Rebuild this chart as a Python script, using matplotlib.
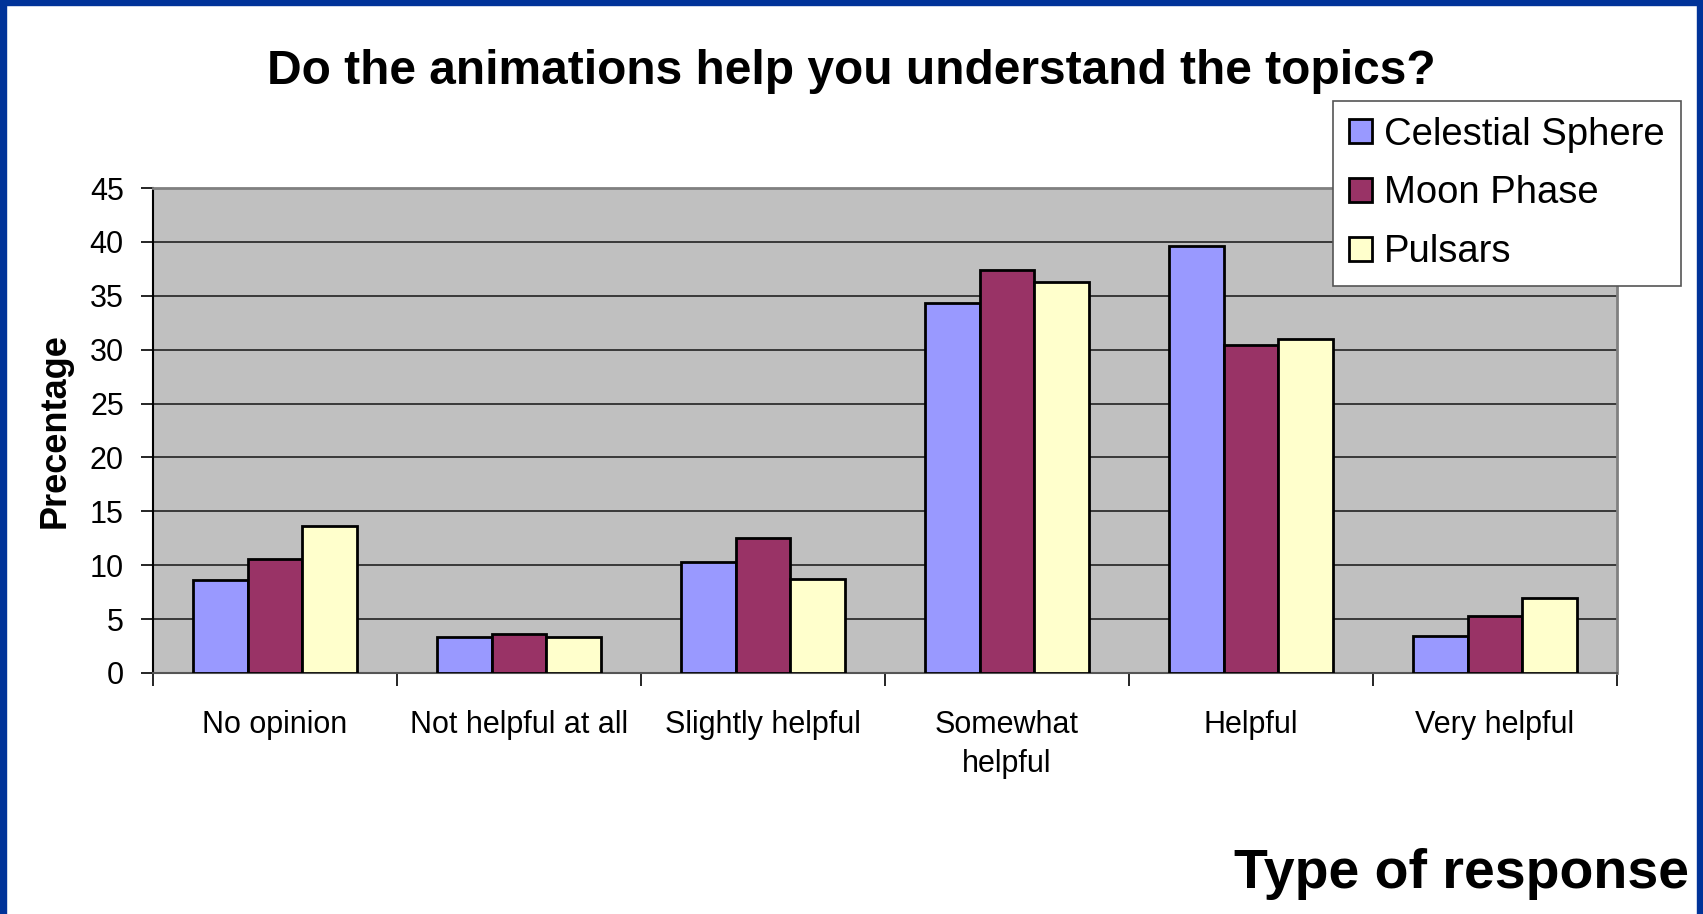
import numpy as np
import matplotlib
matplotlib.use("Agg")
import matplotlib.pyplot as plt
from matplotlib.patches import Rectangle

plt.rcParams['font.family'] = ['Liberation Sans', 'DejaVu Sans']

categories = ["No opinion", "Not helpful at all", "Slightly helpful",
              "Somewhat\nhelpful", "Helpful", "Very helpful"]
celestial = [8.6, 3.3, 10.3, 34.3, 39.6, 3.4]
moon = [10.6, 3.6, 12.5, 37.4, 30.4, 5.3]
pulsars = [13.6, 3.3, 8.7, 36.3, 31.0, 7.0]
series_names = ["Celestial Sphere", "Moon Phase", "Pulsars"]
colors = ["#9999FF", "#993366", "#FFFFCC"]

fig = plt.figure(figsize=(17.03, 9.14), dpi=100)
ax = fig.add_axes([0.0898, 0.2637, 0.8597, 0.5306])
ax.set_facecolor("#C0C0C0")

x = np.arange(len(categories))
w = 0.224
for i, (vals, name, c) in enumerate(zip([celestial, moon, pulsars], series_names, colors)):
    ax.bar(x + (i - 1) * w, vals, w, color=c, edgecolor="black",
           linewidth=2.0, label=name, zorder=3)

ax.set_xlim(-0.5, len(categories) - 0.5)
ax.set_ylim(0, 45)
ax.set_yticks(np.arange(0, 46, 5))
ax.yaxis.grid(True, color="#222222", linewidth=1.2, zorder=1)
ax.set_axisbelow(True)

# category labels in the middle, ticks at the boundaries
ax.set_xticks(x)
ax.set_xticklabels(categories, fontsize=22, linespacing=1.35)
ax.set_xticks(np.arange(-0.5, len(categories), 1.0), minor=True)
ax.tick_params(axis="x", which="major", length=0, pad=27)
ax.tick_params(axis="x", which="minor", length=9, width=1.2, color="black")
ax.tick_params(axis="y", labelsize=22, length=9, width=1.2, pad=12)

ax.spines["left"].set_color("black")
ax.spines["left"].set_linewidth(1.5)
ax.spines["bottom"].set_color("#555555")
ax.spines["bottom"].set_linewidth(1.5)
for s in ["top", "right"]:
    ax.spines[s].set_color("#808080")
    ax.spines[s].set_linewidth(2)

ax.set_ylabel("Precentage", fontsize=26, fontweight="bold", labelpad=12)
fig.text(0.5, 0.922, "Do the animations help you understand the topics?",
         fontsize=34.5, fontweight="bold", ha="center", va="center")
fig.text(0.992, 0.044, "Type of response", fontsize=40, fontweight="bold",
         ha="right", va="center")

leg = fig.legend(loc="upper left", bbox_to_anchor=(0.783, 0.89), fontsize=27.5,
                 frameon=True, fancybox=False, edgecolor="#555555",
                 facecolor="white", framealpha=1,
                 handlelength=0.6, handleheight=0.6, handletextpad=0.3,
                 labelspacing=0.6, borderpad=0.42, borderaxespad=0)
leg.get_frame().set_linewidth(1.2)

# blue slide border
border = "#003399"
fig.patches.append(Rectangle((0, 0), 0.0037, 1, transform=fig.transFigure,
                             color=border, zorder=10))
fig.patches.append(Rectangle((0, 0.994), 1, 0.006, transform=fig.transFigure,
                             color=border, zorder=10))
fig.patches.append(Rectangle((0.9965, 0), 0.0035, 1, transform=fig.transFigure,
                             color=border, zorder=10))

fig.savefig("out.png", dpi=100)
